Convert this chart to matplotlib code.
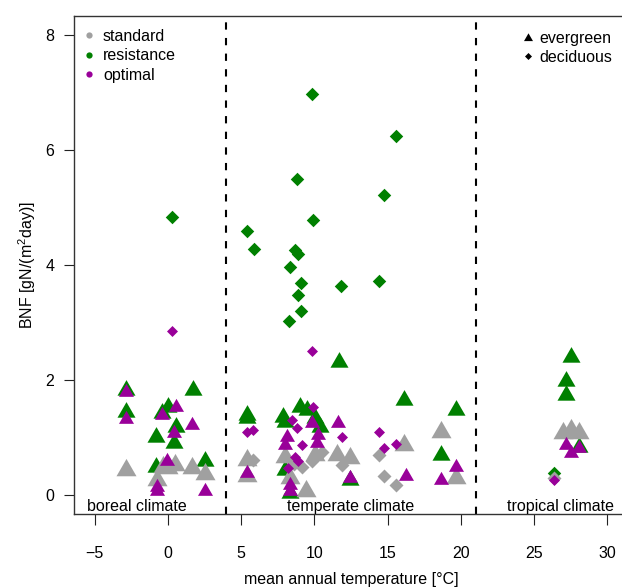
import matplotlib
matplotlib.use("Agg")
import matplotlib.pyplot as plt
from matplotlib.path import Path
from matplotlib.lines import Line2D

plt.rcParams['font.family'] = ['Liberation Sans', 'DejaVu Sans']
plt.rcParams['mathtext.fontset'] = 'custom'
plt.rcParams['mathtext.rm'] = 'Liberation Sans'

# standard (grey)
std_ever_x = [-2.87, -0.3, 0.04, 0.49, 1.63, 2.56, -0.76,
              5.43, 5.43, 8.0, 10.04, 11.52, 12.43, 8.34, 9.43, 16.14, 18.64, 19.64,
              26.99, 27.49, 28.06]
std_ever_y = [0.44, 0.50, 0.47, 0.53, 0.47, 0.37, 0.27,
              0.62, 0.33, 0.67, 0.70, 0.70, 0.65, 0.30, 0.07, 0.88, 1.11, 0.30,
              1.08, 1.14, 1.08]
std_dec_x = [5.84, 8.6, 9.13, 9.82, 10.5, 11.86, 14.41, 14.75, 15.55, 26.35]
std_dec_y = [0.62, 0.55, 0.50, 0.59, 0.75, 0.53, 0.70, 0.33, 0.18, 0.31]

# resistance (green)
res_ever_x = [-2.87, -2.87, 1.70, 0.04, -0.37, 0.54, -0.8, 0.45, -0.8, 2.56,
              11.68, 5.43, 5.43, 7.88, 8.0, 9.02, 9.48, 10.04, 10.38, 12.43, 8.34, 8.0,
              16.14, 19.64, 18.64,
              27.49, 27.15, 27.15, 28.06]
res_ever_y = [1.84, 1.45, 1.83, 1.53, 1.43, 1.19, 1.01, 0.91, 0.50, 0.60,
              2.31, 1.40, 1.34, 1.37, 1.28, 1.54, 1.48, 1.34, 1.19, 0.27, 0.05, 0.45,
              1.65, 1.48, 0.70,
              2.40, 1.98, 1.74, 0.84]
res_dec_x = [0.28, 9.82, 15.55, 8.79, 14.73, 9.93, 5.43, 5.86, 8.68, 8.91, 8.36,
             9.07, 11.82, 14.39, 8.88, 9.09, 8.27, 26.35]
res_dec_y = [4.83, 6.97, 6.24, 5.50, 5.21, 4.78, 4.60, 4.28, 4.26, 4.19, 3.97,
             3.69, 3.64, 3.72, 3.48, 3.21, 3.03, 0.39]

# optimal (purple)
opt_ever_x = [-2.87, -2.87, 0.54, -0.37, 0.45, 1.67, -0.03, -0.76, -0.76, 2.56,
              5.43, 8.11, 8.0, 9.82, 10.27, 10.2, 11.63, 12.43, 8.34, 8.34, 16.23,
              19.64, 18.64,
              27.15, 27.49, 28.06]
opt_ever_y = [1.80, 1.32, 1.53, 1.40, 1.08, 1.22, 0.60, 0.15, 0.07, 0.08,
              0.39, 1.02, 0.88, 1.25, 1.05, 0.91, 1.25, 0.30, 0.18, 0.07, 0.33,
              0.50, 0.26,
              0.88, 0.73, 0.82]
opt_dec_x = [0.3, 9.84, 5.43, 5.84, 9.93, 8.45, 8.79, 9.13, 11.86, 8.68, 8.9,
             8.22, 14.41, 14.75, 15.55, 26.35]
opt_dec_y = [2.85, 2.50, 1.11, 1.14, 1.54, 1.31, 1.17, 0.88, 1.01, 0.67, 0.59,
             0.47, 1.11, 0.82, 0.89, 0.27]

zone_bounds = [4, 21]
zone_names = ['boreal climate', 'temperate climate', 'tropical climate']
zone_label_x = [-2.1, 12.5, 26.8]

GREY = '#A0A0A0'
GREEN = '#008000'
PURPLE = '#990099'

# R-like filled triangle (pch 17) and diamond (pch 18)
tri = Path([(0, 1.555), (1.347, -0.778), (-1.347, -0.778), (0, 1.555)],
           [Path.MOVETO, Path.LINETO, Path.LINETO, Path.CLOSEPOLY])
dia = Path([(0, 1), (1, 0), (0, -1), (-1, 0), (0, 1)],
           [Path.MOVETO, Path.LINETO, Path.LINETO, Path.LINETO, Path.CLOSEPOLY])

PX = 72 / 100  # points per pixel


def tri_ms(w):
    return w * PX / 0.866


def dia_ms(w):
    return w * PX


fig = plt.figure(figsize=(6.22, 5.88), dpi=100)
ax = fig.add_axes([74 / 622, 1 - 513.9 / 588, 554 / 622, 497.6 / 588])

ax.plot(res_ever_x, res_ever_y, ls='none', marker=tri, ms=tri_ms(18), color=GREEN, mew=0)
ax.plot(res_dec_x, res_dec_y, ls='none', marker=dia, ms=dia_ms(13.5), color=GREEN, mew=0)
ax.plot(std_ever_x, std_ever_y, ls='none', marker=tri, ms=tri_ms(20), color=GREY, mew=0)
ax.plot(std_dec_x, std_dec_y, ls='none', marker=dia, ms=dia_ms(14), color=GREY, mew=0)
ax.plot(opt_ever_x, opt_ever_y, ls='none', marker=tri, ms=tri_ms(15), color=PURPLE, mew=0)
ax.plot(opt_dec_x, opt_dec_y, ls='none', marker=dia, ms=dia_ms(11), color=PURPLE, mew=0)

for b in zone_bounds:
    ax.axvline(b, color='black', lw=1.5, dashes=(3.5, 4))

for name, xx in zip(zone_names, zone_label_x):
    ax.text(xx, -0.19, name, ha='center', va='center', fontsize=11.5)

ax.set_xlim(-6.4, 31.4)
ax.set_ylim(-0.32, 8.32)
ax.set_xticks([-5, 0, 5, 10, 15, 20, 25, 30])
ax.set_xticklabels(['\u22125', '0', '5', '10', '15', '20', '25', '30'])
ax.set_yticks([0, 2, 4, 6, 8])
ax.tick_params(labelsize=11.5, width=0.8, colors='#222222', labelcolor='black')
ax.tick_params(axis='x', length=8, pad=15)
ax.tick_params(axis='y', length=7.2, pad=7)
ax.spines['right'].set_visible(False)
for s in ['left', 'top', 'bottom']:
    ax.spines[s].set_linewidth(1.0)
    ax.spines[s].set_color('#333333')

ax.set_xlabel('mean annual temperature [°C]', fontsize=11.5, labelpad=8)
ax.set_ylabel('BNF [gN/(m$^2$day)]', fontsize=11.5, labelpad=5)

h1 = [Line2D([], [], ls='none', marker='o', ms=4.5, color=c, mew=0)
      for c in [GREY, GREEN, PURPLE]]
leg1 = ax.legend(h1, ['standard', 'resistance', 'optimal'], loc='upper left',
                 bbox_to_anchor=(0.012, 0.975), frameon=False, fontsize=11.5,
                 handlelength=1.0, handletextpad=0.4, labelspacing=0.28,
                 borderpad=0, borderaxespad=0)
ax.add_artist(leg1)
h2 = [Line2D([], [], ls='none', marker=tri, ms=tri_ms(9), color='black', mew=0),
      Line2D([], [], ls='none', marker=dia, ms=dia_ms(7), color='black', mew=0)]
ax.legend(h2, ['evergreen', 'deciduous'], loc='upper left',
          bbox_to_anchor=(0.805, 0.970), frameon=False, fontsize=11.5,
          handlelength=1.0, handletextpad=0.2, labelspacing=0.22,
          borderpad=0, borderaxespad=0)

fig.savefig('out.png', dpi=100)
